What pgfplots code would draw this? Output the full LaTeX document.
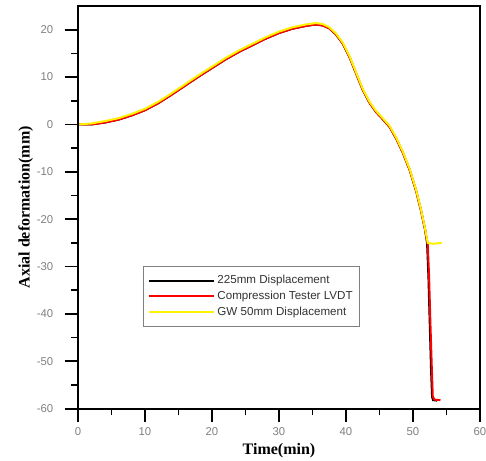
\documentclass[border=0pt]{standalone}
\usepackage{fontspec}
\setmainfont{Liberation Serif}
\newfontfamily\arial{Liberation Sans}
\usepackage{pgfplots}
\pgfplotsset{compat=1.18}
\begin{document}
\begin{tikzpicture}
\begin{axis}[
    scale only axis,
    width=301.5pt,
    height=302pt,
    xmin=0, xmax=60,
    ymin=-60, ymax=25,
    xtick={0,10,...,60},
    ytick={-60,-50,...,20},
    minor xtick={5,15,...,55},
    minor ytick={-55,-45,...,15},
    tick align=outside,
    xtick pos=left,
    ytick pos=left,
    major tick length=10pt,
    minor tick length=5pt,
    separate axis lines,
    axis line style={draw=black, line width=1.5pt},
    tick style={draw=black, line width=1.3pt},
    ticklabel style={font=\arial\fontsize{8.5}{10}\selectfont, text=gray},
    yticklabel style={xshift=-5pt},
    xticklabel style={yshift=-0.5pt},
    /pgf/number format/assume math mode=true,
    xlabel={\fontsize{12}{14}\selectfont\bfseries Time(min)},
    ylabel={\fontsize{12}{14}\selectfont\bfseries Axial deformation(mm)},
    xlabel style={yshift=1pt},
    ylabel style={yshift=-4pt},
    legend style={at={(0.162,0.355)}, anchor=north west, draw=gray, line width=0.6pt,
        font=\arial\fontsize{8.7}{10}\selectfont, text=black!80,
        inner xsep=3pt, inner ysep=5pt, row sep=0pt},
    legend cell align=left,
    legend image code/.code={\draw[#1, line width=1.5pt] (0cm,0cm) -- (1.72cm,0cm);},
    after end axis/.code={\draw[black, line width=1.5pt] (rel axis cs:0,0) rectangle (rel axis cs:1,1);},
]
\addplot[black, line width=1.5pt] coordinates {
(0,0) (2,0.0) (4,0.4) (6,1.0) (8,1.9) (10,3.0) (12,4.5) (14,6.3) (16,8.2) (18,10.1)
(20,11.9) (22,13.7) (24,15.3) (26,16.7) (28,18.1) (30,19.3) (32,20.2) (34,20.8)
(35.5,21.1) (36.5,20.9) (37.5,20.3) (38.5,19.0) (39.5,17.1) (40.5,14.3) (41.5,10.8)
(42.5,7.3) (43.5,4.6) (44.5,2.6) (45.5,1.1) (46.5,-0.5) (47.5,-3.0) (48.5,-6.0)
(49.5,-9.6) (50.5,-14.2) (51.2,-18.2) (51.8,-22.2) (52.1,-25) (52.3,-32) (52.5,-42)
(52.7,-52) (52.85,-57.5) (53.0,-58.2) (53.6,-58.3)
};
\addlegendentry{225mm Displacement}
\addplot[red, line width=1.5pt] coordinates {
(0,0) (2,0.0) (4,0.4) (6,1.0) (8,1.9) (10,3.0) (12,4.5) (14,6.3) (16,8.2) (18,10.1)
(20,11.9) (22,13.7) (24,15.3) (26,16.7) (28,18.1) (30,19.3) (32,20.2) (34,20.8)
(35.5,21.1) (36.5,20.9) (37.5,20.3) (38.5,19.0) (39.5,17.1) (40.5,14.3) (41.5,10.8)
(42.5,7.3) (43.5,4.6) (44.5,2.6) (45.5,1.1) (46.5,-0.5) (47.5,-3.0) (48.5,-6.0)
(49.5,-9.6) (50.5,-14.2) (51.2,-18.2) (51.8,-22.2) (52.2,-25.3) (52.4,-32) (52.6,-42)
(52.8,-51) (52.95,-57.4) (53.2,-58.1) (54.1,-58.2)
};
\addlegendentry{Compression Tester LVDT}
\addplot[yellow, line width=1.5pt] coordinates {
(0,0) (2,0.2) (4,0.7) (6,1.3) (8,2.2) (10,3.3) (12,4.8) (14,6.6) (16,8.5) (18,10.4)
(20,12.2) (22,14.0) (24,15.6) (26,17.0) (28,18.4) (30,19.6) (32,20.5) (34,21.1)
(35.5,21.4) (36.5,21.2) (37.5,20.5) (38.5,19.2) (39.5,17.3) (40.5,14.5) (41.5,11.0)
(42.5,7.5) (43.5,4.8) (44.5,2.8) (45.5,1.3) (46.5,-0.3) (47.5,-2.8) (48.5,-5.8)
(49.5,-9.4) (50.5,-14.0) (51.2,-18.0) (51.8,-22.0) (52.2,-25.0) (53.0,-25.2) (54.3,-25.0)
};
\addlegendentry{GW 50mm Displacement}
\end{axis}
\pgfresetboundingbox
\path (-58.5pt,-39pt) rectangle (306pt,306.5pt);
\end{tikzpicture}
\end{document}
